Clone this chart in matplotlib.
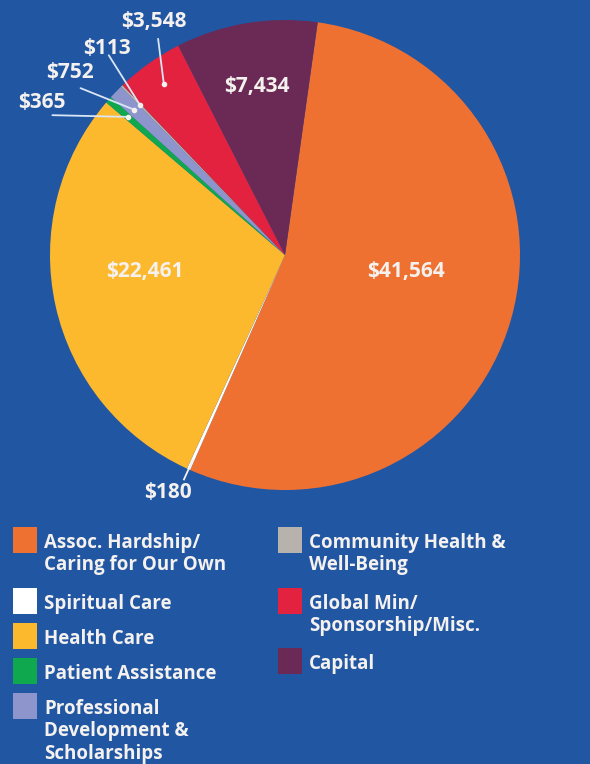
import numpy as np
import matplotlib
matplotlib.use("Agg")
import matplotlib.pyplot as plt
from matplotlib.patches import Rectangle

# ---- data ----
categories = ["Assoc. Hardship/\nCaring for Our Own", "Spiritual Care", "Health Care",
              "Patient Assistance", "Professional\nDevelopment &\nScholarships",
              "Community Health &\nWell-Being", "Global Min/\nSponsorship/Misc.", "Capital"]
values = [41564, 180, 22461, 365, 752, 113, 3548, 7434]
value_labels = ["$41,564", "$180", "$22,461", "$365", "$752", "$113", "$3,548", "$7,434"]
colors = ["#ee7132", "#ffffff", "#fdb92e", "#10a84f", "#8d95cc", "#b7b2ab", "#e2223f", "#6b2a55"]

BG = "#2156a3"
W, H = 590, 764
fig = plt.figure(figsize=(W / 100, H / 100), dpi=100, facecolor=BG)

def fx(px):
    return px / W

def fy(py):
    return 1 - py / H

# pie axes: centre (285,255), radius 235 px
cx, cy, R = 285, 255, 235
ax = fig.add_axes([fx(cx - R), fy(cy + R), 2 * R / W, 2 * R / H])
ax.set_facecolor(BG)
wedges, _ = ax.pie(values, colors=colors, startangle=82, counterclock=False,
                   wedgeprops=dict(linewidth=0))
ax.set_xlim(-1, 1)
ax.set_ylim(-1, 1)
ax.set_aspect("equal")
ax.axis("off")

FONT = ["Open Sans", "DejaVu Sans"]
TC = "#f4f1ee"
VFS = 15

def mid(w, r):
    a = np.deg2rad((w.theta1 + w.theta2) / 2)
    return r * np.cos(a), r * np.sin(a)

# inside labels (big slices), positions in data coords
inside = {0: (0.515, -0.072), 2: (-0.596, -0.072), 7: (-0.119, 0.719)}
for i, (x, y) in inside.items():
    ax.text(x, y, value_labels[i], color=TC, fontsize=VFS, fontweight="bold",
            family=FONT, ha="center", va="center")

# outside labels with leader lines (text pos, line start) in data coords
outside = {
    6: ((-0.557, 0.992), (-0.54, 0.92)),
    5: ((-0.757, 0.880), (-0.75, 0.85)),
    4: ((-0.915, 0.775), (-0.87, 0.71)),
    3: ((-1.034, 0.651), (-0.99, 0.595)),
}
for i, (tpos, lstart) in outside.items():
    dx, dy = mid(wedges[i], 0.89)
    ax.plot([lstart[0], dx], [lstart[1], dy], color="#d8e6f5", lw=1.3,
            solid_capstyle="round", clip_on=False)
    ax.plot([dx], [dy], "o", color="#f4f1ee", ms=3, clip_on=False)
    ax.text(tpos[0], tpos[1], value_labels[i], color=TC, fontsize=VFS,
            fontweight="bold", family=FONT, ha="center", va="center", clip_on=False)

# $180 label
dx, dy = mid(wedges[1], 0.96)
ax.plot([-0.43, dx], [-0.955, dy], color="#f4f1ee", lw=1.3, clip_on=False)
ax.text(-0.498, -1.012, value_labels[1], color=TC, fontsize=VFS, fontweight="bold",
        family=FONT, ha="center", va="center", clip_on=False)

# ---- legend (manual) ----
col_left = [0, 1, 2, 3, 4]
col_right = [5, 6, 7]
left_rows = [527, 588, 623, 658, 693]
right_rows = [527, 588, 648]

def legend_entry(i, sx, sy, tx):
    fig.patches.append(Rectangle((fx(sx), fy(sy + 26)), 24 / W, 26 / H,
                                 transform=fig.transFigure, color=colors[i],
                                 lw=0))
    fig.text(fx(tx), fy(sy + 6), categories[i], color=TC, fontsize=13.5,
             fontweight="bold", family=FONT, ha="left", va="top",
             linespacing=1.15)

for i, sy in zip(col_left, left_rows):
    legend_entry(i, 13, sy, 44)
for i, sy in zip(col_right, right_rows):
    legend_entry(i, 278, sy, 309)

fig.savefig("out.png", dpi=100, facecolor=BG)
